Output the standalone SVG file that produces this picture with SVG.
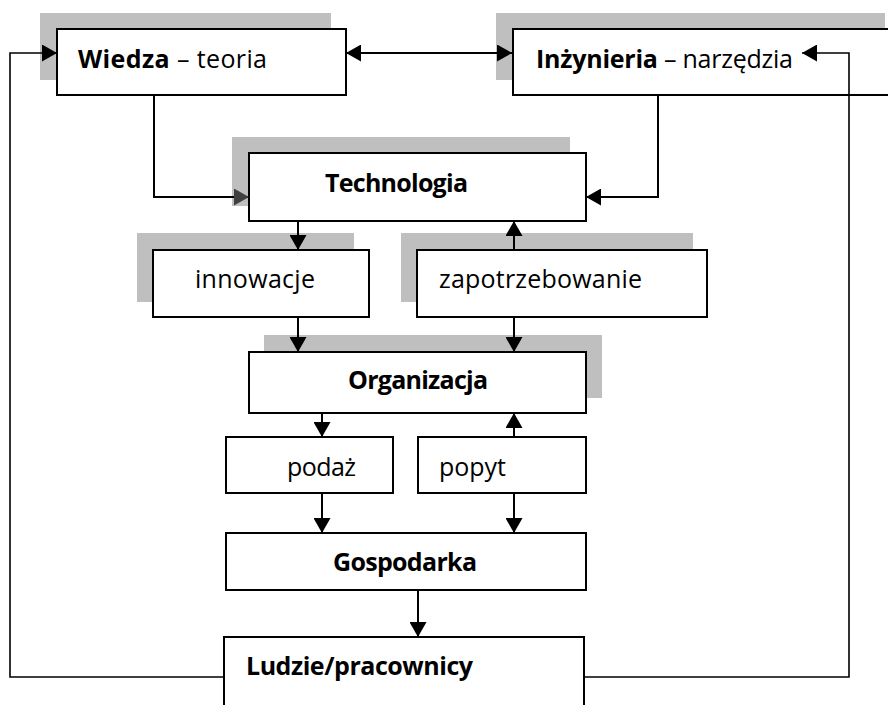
<svg xmlns="http://www.w3.org/2000/svg" width="888" height="705" viewBox="0 0 888 705">
<defs>
<style>
.sh{fill:#bfbfbf;stroke:none}
.bx{fill:#fff;stroke:#000;stroke-width:2}
.t{font-family:"Open Sans","Liberation Sans",sans-serif;font-size:25px;fill:#000}
.b{font-weight:bold}
.c{fill:none;stroke:#000;stroke-width:2}
.l{fill:none;stroke:#000;stroke-width:1.6}
</style>
<marker id="ah" markerUnits="userSpaceOnUse" markerWidth="16" markerHeight="17" viewBox="0 0 15 17" refX="15" refY="8.5" orient="auto-start-reverse">
<path d="M0,0 L15,8.5 L0,17 z" fill="#000"/>
</marker>
<marker id="ahg" markerUnits="userSpaceOnUse" markerWidth="16" markerHeight="17" viewBox="0 0 15 17" refX="15" refY="8.5" orient="auto">
<path d="M0,0 L15,8.5 L0,17 z" fill="#404040"/>
</marker>
</defs>
<rect width="888" height="705" fill="#fff"/>
<g id="wiedza">
<rect class="sh" x="40" y="13" width="291" height="67"/>
<rect class="bx" x="57" y="29" width="289" height="66"/>
<text class="t" x="78" y="68" textLength="189"><tspan class="b">Wiedza</tspan> – teoria</text>
</g>
<g id="inzynieria">
<rect class="sh" x="496" y="13" width="389" height="67"/>
<rect class="bx" x="513" y="29" width="400" height="66"/>
<text class="t" x="536" y="68" textLength="257"><tspan class="b">Inżynieria</tspan> – narzędzia</text>
</g>
<g id="technologia">
<rect class="sh" x="232" y="137" width="338" height="69"/>
<rect class="bx" x="249" y="153" width="337" height="68"/>
<text class="t b" x="325" y="192" textLength="143">Technologia</text>
</g>
<g id="innowacje">
<rect class="sh" x="137" y="233" width="217" height="69"/>
<rect class="bx" x="153" y="250" width="216" height="67"/>
<text class="t" x="195" y="288" textLength="120">innowacje</text>
</g>
<g id="zapotrzebowanie">
<rect class="sh" x="401" y="233" width="292" height="69"/>
<rect class="bx" x="417" y="250" width="290" height="67"/>
<text class="t" x="439" y="288" textLength="203">zapotrzebowanie</text>
</g>
<g id="organizacja">
<rect class="sh" x="264" y="335" width="338" height="63"/>
<rect class="bx" x="249" y="352" width="337" height="61"/>
<text class="t b" x="348" y="389" textLength="140">Organizacja</text>
</g>
<g id="podaz">
<rect class="bx" x="226" y="437" width="167" height="56"/>
<text class="t" x="287" y="476" textLength="69">podaż</text>
</g>
<g id="popyt">
<rect class="bx" x="418" y="437" width="168" height="56"/>
<text class="t" x="439" y="476" textLength="67">popyt</text>
</g>
<g id="gospodarka">
<rect class="bx" x="226" y="533" width="360" height="57"/>
<text class="t b" x="333" y="571" textLength="144">Gospodarka</text>
</g>
<g id="ludzie">
<rect class="bx" x="224" y="637" width="360" height="100"/>
<text class="t b" x="246" y="675" textLength="227">Ludzie/pracownicy</text>
</g>
<g id="connectors">
<path class="c" d="M346,53 H512" marker-start="url(#ah)" marker-end="url(#ah)"/>
<path class="c" d="M154,95 V197 H249" marker-end="url(#ahg)"/>
<path class="c" d="M658,95 V197 H586" marker-end="url(#ah)"/>
<path class="c" d="M298,221 V250" marker-end="url(#ah)"/>
<path class="c" d="M514,250 V221" marker-end="url(#ah)"/>
<path class="c" d="M298,317 V352" marker-end="url(#ah)"/>
<path class="c" d="M514,317 V352" marker-end="url(#ah)"/>
<path class="c" d="M322,413 V437" marker-end="url(#ah)"/>
<path class="c" d="M514,437 V413" marker-end="url(#ah)"/>
<path class="c" d="M322,493 V533" marker-end="url(#ah)"/>
<path class="c" d="M514,493 V533" marker-end="url(#ah)"/>
<path class="c" d="M418,590 V637" marker-end="url(#ah)"/>
<path class="l" d="M223,677 H10 V53 H57" marker-end="url(#ah)"/>
<path class="l" d="M585,677 H849 V53 H802" marker-end="url(#ah)"/>
</g>
</svg>
